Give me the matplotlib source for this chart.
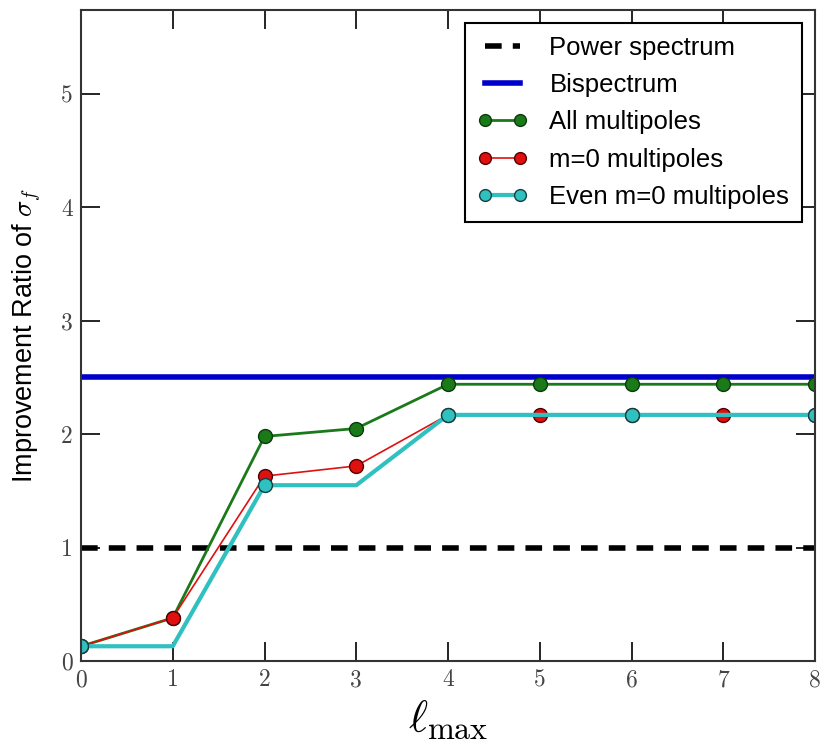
import numpy as np
import matplotlib.pyplot as plt

plt.rcParams['mathtext.fontset'] = 'cm'

lmax = [0, 1, 2, 3, 4, 5, 6, 7, 8]
power_spectrum = 1.0
bispectrum = 2.5
all_multipoles = [0.13, 0.38, 1.98, 2.05, 2.44, 2.44, 2.44, 2.44, 2.44]
m0_multipoles = [0.13, 0.38, 1.63, 1.72, 2.17, 2.17, 2.17, 2.17, 2.17]
even_m0_multipoles = [0.13, 0.13, 1.55, 1.55, 2.17, 2.17, 2.17, 2.17, 2.17]
even_marks = [0, 2, 4, 6, 8]

fig = plt.figure(figsize=(8.21, 7.43), dpi=100)
ax = fig.add_axes([81/821, 1-661/743, (815-81)/821, (661-10)/743])

ax.plot([0, 8], [power_spectrum]*2, 'k--', lw=4, dashes=(3, 2), label='Power spectrum')
ax.plot([0, 8], [bispectrum]*2, '-', color='#0000cc', lw=4, label='Bispectrum')
ax.plot(lmax, all_multipoles, 'o-', color='#1a7a1a', lw=2, ms=10,
        mfc='#1a7a1a', mec='#0a3a0a', mew=1, label='All multipoles')
ax.plot(lmax, m0_multipoles, 'o-', color='#e01010', lw=1.2, ms=10,
        mfc='#e01010', mec='#500000', mew=1, label='m=0 multipoles')
ax.plot(lmax, even_m0_multipoles, 'o-', color='#30c0c0', lw=3, ms=10,
        mfc='#30c0c0', mec='#104040', mew=1, markevery=even_marks,
        label='Even m=0 multipoles')

ax.set_xlim(0, 8)
ax.set_ylim(0, 5.74)
ax.set_xticks(range(9))
ax.set_yticks(range(6))
ax.tick_params(direction='in', length=14, width=1.2, top=True, right=True,
               labelsize=17, pad=6)
for lab in ax.get_xticklabels() + ax.get_yticklabels():
    lab.set_family('cmr10')
    lab.set_color('#444444')
for s in ax.spines.values():
    s.set_linewidth(1.5)
    s.set_color('#333333')

ax.set_ylabel(r'Improvement Ratio of $\sigma_f$', fontsize=19.5,
              family='Liberation Sans', labelpad=12)
ax.set_xlabel(r'$\ell_{\rm max}$', fontsize=33, labelpad=4)

leg = ax.legend(loc='upper right', prop={'family': 'Liberation Sans', 'size': 18.5},
                frameon=True, fancybox=False, edgecolor='black', framealpha=1,
                borderaxespad=0.5, handlelength=1.95, handletextpad=0.85,
                labelspacing=0.52, numpoints=2, markerscale=0.85, borderpad=0.5)
leg.get_frame().set_linewidth(1.5)

fig.savefig('out.png', dpi=100)
